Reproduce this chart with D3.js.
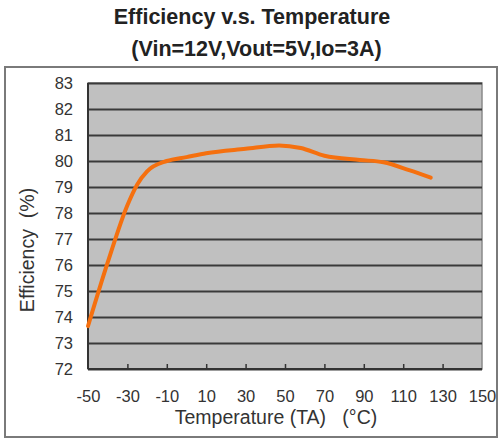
<!DOCTYPE html>
<html lang="en">
<head>
<meta charset="utf-8"/>
<title>Efficiency v.s. Temperature</title>
<script src="https://d3js.org/d3.v7.min.js"></script>
<style>
  body { margin: 0; background: #fff; }
  svg text { font-family: "Liberation Sans", Arial, sans-serif; }
  .axis .domain { display: none; }
  .axis text { fill: #333; font-size: 16.5px; }
</style>
</head>
<body>
<div id="chart"></div>
<script>
// data
var temps = [-50, -40, -30, -25, -20, -10, 0, 10, 30, 47, 58, 70, 88, 100, 113, 124];
var effic = [73.65, 76.1, 78.3, 79.1, 79.6, 80.0, 80.15, 80.3, 80.47, 80.6, 80.5, 80.2, 80.04, 79.95, 79.65, 79.36];
var xTicks = [-50, -30, -10, 10, 30, 50, 70, 90, 110, 130, 150];
var yTicks = [72, 73, 74, 75, 76, 77, 78, 79, 80, 81, 82, 83];

var W = 504, H = 439;
var m = {left: 88, top: 83, right: 22, bottom: 70};
var width = W - m.left - m.right,
    height = H - m.top - m.bottom;

var svg = d3.select("#chart").append("svg")
  .attr("width", W)
  .attr("height", H);

// outer frame
svg.append("rect")
  .attr("x", 5).attr("y", 67)
  .attr("width", 492).attr("height", 370)
  .attr("fill", "#fff")
  .attr("stroke", "#7a7a7a")
  .attr("stroke-width", 2);

// titles
svg.append("text")
  .attr("x", 252).attr("y", 23.5)
  .attr("text-anchor", "middle")
  .attr("font-size", 21.5).attr("font-weight", "bold")
  .attr("fill", "#222")
  .text("Efficiency v.s. Temperature");
svg.append("text")
  .attr("x", 256.5).attr("y", 56)
  .attr("text-anchor", "middle")
  .attr("font-size", 21.5).attr("font-weight", "bold")
  .attr("fill", "#222")
  .text("(Vin=12V,Vout=5V,Io=3A)");

var g = svg.append("g").attr("transform", "translate(" + m.left + "," + m.top + ")");

var x = d3.scaleLinear().domain([-50, 150]).range([0, width]);
var y = d3.scaleLinear().domain([72, 83]).range([height, 0]);

// plot background
g.append("rect")
  .attr("width", width).attr("height", height)
  .attr("fill", "#c0c0c0")
  .attr("stroke", "#8a8a8a")
  .attr("stroke-width", 1.5);

// y axis + gridlines
var yAxis = g.append("g")
  .attr("class", "axis")
  .call(d3.axisLeft(y).tickValues(yTicks).tickSize(-width).tickPadding(15)
    .tickFormat(function(d) { return String(d); }));
yAxis.selectAll(".tick line")
  .attr("stroke", "#3a3a3a")
  .attr("stroke-width", 2);

// x axis: inward ticks, labels below (plain hyphen minus like the original)
var xAxis = g.append("g")
  .attr("class", "axis")
  .attr("transform", "translate(0," + height + ")")
  .call(d3.axisBottom(x).tickValues(xTicks).tickSizeInner(-5).tickSizeOuter(0).tickPadding(21)
    .tickFormat(function(d) { return String(d); }));
xAxis.selectAll(".tick line")
  .attr("stroke", "#333")
  .attr("stroke-width", 1.5);
xAxis.selectAll(".tick line").filter(function(d) { return d === -50 || d === 150; }).remove();

// axis lines
g.append("line")
  .attr("x1", 0).attr("x2", 0).attr("y1", 0).attr("y2", height)
  .attr("stroke", "#333").attr("stroke-width", 2);
g.append("line")
  .attr("x1", 0).attr("x2", width).attr("y1", height).attr("y2", height)
  .attr("stroke", "#333").attr("stroke-width", 2);

// axis titles
svg.append("text")
  .attr("x", 276).attr("y", 424)
  .attr("text-anchor", "middle")
  .attr("font-size", 19.5).attr("fill", "#333")
  .attr("xml:space", "preserve")
  .text("Temperature (TA)   (°C)");
svg.append("text")
  .attr("transform", "translate(34,250) rotate(-90)")
  .attr("text-anchor", "middle")
  .attr("font-size", 19.5).attr("fill", "#333")
  .attr("xml:space", "preserve")
  .text("Efficiency  (%)");

// curve
var line = d3.line()
  .x(function(d, i) { return x(temps[i]); })
  .y(function(d) { return y(d); })
  .curve(d3.curveMonotoneX);

g.append("path")
  .datum(effic)
  .attr("d", line)
  .attr("fill", "none")
  .attr("stroke", "#f5700f")
  .attr("stroke-width", 4)
  .attr("stroke-linecap", "round");
</script>
</body>
</html>
